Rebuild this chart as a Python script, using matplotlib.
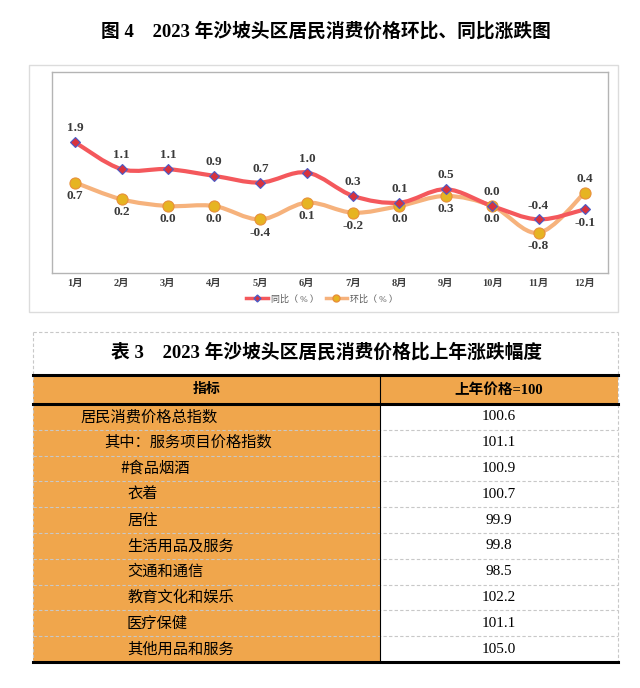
import matplotlib.pyplot as plt
from matplotlib.path import Path
from matplotlib.patches import PathPatch, Rectangle
from matplotlib.lines import Line2D

plt.rcParams['font.family'] = ['Liberation Serif', 'Noto Sans CJK SC', 'DejaVu Sans']

# ---- data ----
months = ['1月', '2月', '3月', '4月', '5月', '6月', '7月', '8月', '9月', '10月', '11月', '12月']
yoy = [1.9, 1.1, 1.1, 0.9, 0.7, 1.0, 0.3, 0.1, 0.5, 0.0, -0.4, -0.1]   # 同比
mom = [0.7, 0.2, 0.0, 0.0, -0.4, 0.1, -0.2, 0.0, 0.3, 0.0, -0.8, 0.4]  # 环比

items = ['居民消费价格总指数', '其中：服务项目价格指数', '#食品烟酒', '衣着', '居住',
         '生活用品及服务', '交通和通信', '教育文化和娱乐', '医疗保健', '其他用品和服务']
index_values = [100.6, 101.1, 100.9, 100.7, 99.9, 99.8, 98.5, 102.2, 101.1, 105.0]

chart_title = '图 4　2023 年沙坡头区居民消费价格环比、同比涨跌图'
table_title = '表 3　2023 年沙坡头区居民消费价格比上年涨跌幅度'
header = ['指标', '上年价格=100']

W, H = 640, 688
fig = plt.figure(figsize=(W / 100, H / 100), dpi=100)

# background axes in pixel coordinates
bg = fig.add_axes([0, 0, 1, 1])
bg.set_xlim(0, W)
bg.set_ylim(H, 0)
bg.axis('off')

bg.text(326, 31, chart_title, ha='center', va='center', fontsize=13.5, weight='bold')

# chart frame
bg.add_patch(Rectangle((29, 65), 589, 247, fill=False, ec='#dcdcdc', lw=1))

# ---- line chart ----
ax = fig.add_axes([52 / W, 1 - 273 / H, 556 / W, 201 / H])
ax.set_xlim(0.5, 12.5)
ax.set_ylim(-2, 4)
for s in ax.spines.values():
    s.set_color('#b4b4b4')
    s.set_linewidth(1)
ax.set_yticks([])
x = list(range(1, 13))
ax.set_xticks(x)
ax.set_xticklabels(months, fontsize=7.5, weight='bold', color='#404040')
ax.tick_params(axis='x', length=0, pad=4)


def smooth_path(xs, ys):
    pts = list(zip(xs, ys))
    verts = [pts[0]]
    codes = [Path.MOVETO]
    n = len(pts)
    for i in range(n - 1):
        p0 = pts[i - 1] if i > 0 else pts[i]
        p1 = pts[i]
        p2 = pts[i + 1]
        p3 = pts[i + 2] if i + 2 < n else pts[i + 1]
        c1 = (p1[0] + (p2[0] - p0[0]) / 6, p1[1] + (p2[1] - p0[1]) / 6)
        c2 = (p2[0] - (p3[0] - p1[0]) / 6, p2[1] - (p3[1] - p1[1]) / 6)
        verts += [c1, c2, p2]
        codes += [Path.CURVE4] * 3
    return Path(verts, codes)


red = '#f4585c'
orange = '#f6b27c'
ax.add_patch(PathPatch(smooth_path(x, mom), fill=False, ec=orange, lw=3, zorder=2, capstyle='round'))
ax.add_patch(PathPatch(smooth_path(x, yoy), fill=False, ec=red, lw=3, zorder=3, capstyle='round'))
ax.plot(x, yoy, ls='none', marker='D', ms=5, mfc='#d8323c', mec='#4a5cc8', mew=0.8, zorder=5)
ax.plot(x, mom, ls='none', marker='o', ms=8, mfc='#e6b422', mec='#e8903a', mew=0.8, zorder=4)

lab = dict(ha='center', va='center', fontsize=9.5, weight='bold', color='#3a3a3a',
           textcoords='offset points', zorder=6)
for i in range(12):
    up = 10 if i < 11 else -10
    ax.annotate(f'{yoy[i]:.1f}', (x[i], yoy[i]), xytext=(0, up), **lab)
    ax.annotate(f'{mom[i]:.1f}', (x[i], mom[i]), xytext=(0, -up * 0.95), **lab)

handles = [
    Line2D([], [], color=red, lw=2.5, marker='D', ms=3.5, mfc='#d8323c', mec='#4a5cc8'),
    Line2D([], [], color=orange, lw=2.5, marker='o', ms=5, mfc='#e6b422', mec='#e8903a'),
]
fig.legend(handles, ['同比（ % ）', '环比（ % ）'], loc='center', bbox_to_anchor=(322 / W, 1 - 299 / H),
           ncol=2, frameon=False, fontsize=6.5, handlelength=2.4, columnspacing=0.8,
           handletextpad=0.3, labelcolor='#595959')

# ---- table ----
tl, tr = 33, 618
col = 380
top_dash = 332
head_top, head_bot = 375, 404
row_h = 25.8
n = len(items)
bottom = head_bot + n * row_h

# orange fills
bg.add_patch(Rectangle((tl, head_top), tr - tl, head_bot - head_top, fc='#f0a64c', ec='none'))
bg.add_patch(Rectangle((tl, head_bot), col - tl, bottom - head_bot, fc='#f0a64c', ec='none'))

dash = dict(color='#c8c8c8', lw=0.8, ls=(0, (3, 2)))
bg.plot([tl, tr], [top_dash, top_dash], **dash)
bg.plot([tl, tl], [top_dash, bottom], **dash)
bg.plot([tr, tr], [top_dash, bottom], **dash)
for k in range(1, n):
    yk = head_bot + k * row_h
    bg.plot([tl, tr], [yk, yk], **dash)

bg.plot([tl, tr], [head_top, head_top], color='black', lw=2.2)
bg.plot([tl, tr], [head_bot, head_bot], color='black', lw=2.2)
bg.plot([tl, tr], [bottom, bottom], color='black', lw=2.2)
bg.plot([col, col], [head_top, bottom], color='black', lw=0.8)

bg.text(327, 352, table_title, ha='center', va='center', fontsize=13.5, weight='bold')
bg.text((tl + col) / 2, (head_top + head_bot) / 2, header[0], ha='center', va='center',
        fontsize=10, weight='bold')
bg.text((col + tr) / 2, (head_top + head_bot) / 2, header[1], ha='center', va='center',
        fontsize=10.5, weight='bold')

indents = [80, 104, 120, 127, 127, 127, 127, 127, 127, 127]
for k in range(n):
    yc = head_bot + (k + 0.5) * row_h
    bg.text(indents[k], yc, items[k], ha='left', va='center', fontsize=11,
            family='Noto Sans CJK SC')
    bg.text((col + tr) / 2, yc, f'{index_values[k]:.1f}', ha='center', va='center',
            fontsize=11)

fig.savefig('out.png', dpi=100)
